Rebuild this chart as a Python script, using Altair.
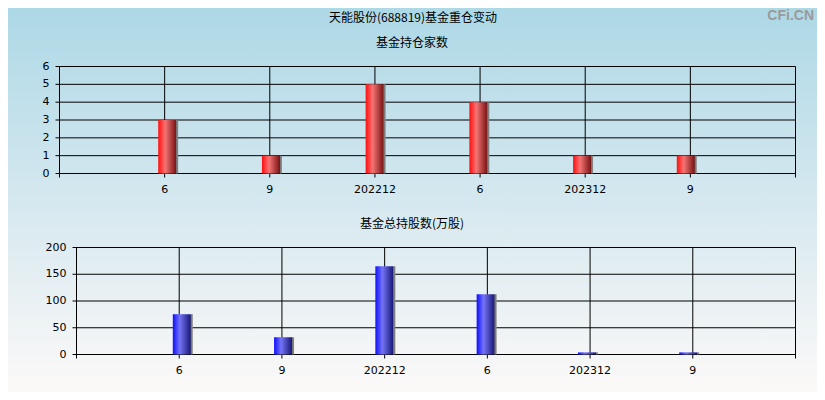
import altair as alt
import pandas as pd

# ---- data ----
positions = [1, 2, 3, 4, 5, 6]
tick_labels = ["6", "9", "202212", "6", "202312", "9"]
fund_counts = [3, 1, 5, 4, 1, 1]
fund_shares = [75.3, 32.3, 165.0, 112.7, 4.0, 4.0]
count_ticks = [0, 1, 2, 3, 4, 5, 6]
share_ticks = [0, 50, 100, 150, 200]
grid_x = [0, 1, 2, 3, 4, 5, 6, 7]

main_title = "天能股份(688819)基金重仓变动"
top_title = "基金持仓家数"
bottom_title = "基金总持股数(万股)"
watermark = "CFi.CN"

W, H = 809, 384
NUM_FONT = "DejaVu Sans"
CJK_FONT = "Noto Sans CJK SC"


def hgrad(stops):
    return {"gradient": "linear", "x1": 0, "y1": 0, "x2": 1, "y2": 0,
            "stops": [{"offset": o, "color": c} for o, c in stops]}


red_grad = hgrad([(0, "#ff1010"), (0.12, "#ff3030"), (0.35, "#f57474"),
                  (0.88, "#7c1616"), (0.9, "#6e6e6e"), (1, "#8c8c8c")])
blue_grad = hgrad([(0, "#1010ff"), (0.12, "#3030ff"), (0.35, "#7474f5"),
                   (0.88, "#1a1a7c"), (0.9, "#6e6e6e"), (1, "#8c8c8c")])
bg_grad = {"gradient": "linear", "x1": 0, "y1": 0, "x2": 0, "y2": 1,
           "stops": [{"offset": 0, "color": "#add8e6"},
                     {"offset": 0.5, "color": "#d5e8ef"},
                     {"offset": 1, "color": "#fcf9f8"}]}


def panel(values, yticks, ymax, xr, yr, grad):
    xs = alt.Scale(domain=[0, 7], range=xr, nice=False, zero=False)
    ys = alt.Scale(domain=[0, ymax], range=yr, nice=False, zero=False)
    bars_df = pd.DataFrame({"pos": positions, "label": tick_labels, "value": values})
    yt_df = pd.DataFrame({"v": yticks, "t": [str(v) for v in yticks]})
    gx_df = pd.DataFrame({"g": grid_x})

    hgrid = alt.Chart(yt_df).mark_rule(color="black", strokeWidth=1, xOffset=-4).encode(
        y=alt.Y("v:Q", scale=ys, axis=None),
        x=alt.XDatum(0, scale=xs, axis=None),
        x2=alt.datum(7),
    )
    vgrid = alt.Chart(gx_df).mark_rule(color="black", strokeWidth=1, y2Offset=4).encode(
        x=alt.X("g:Q", scale=xs, axis=None),
        y=alt.YDatum(ymax, scale=ys, axis=None),
        y2=alt.datum(0),
    )
    bars = alt.Chart(bars_df).mark_bar(width=20, color=grad, stroke=None).encode(
        x=alt.X("pos:Q", scale=xs, axis=None),
        y=alt.Y("value:Q", scale=ys, axis=None),
        y2=alt.datum(0),
    )
    ylabels = alt.Chart(yt_df).mark_text(
        align="right", baseline="middle", dx=-10, font=NUM_FONT, fontSize=11, color="#000"
    ).encode(
        y=alt.Y("v:Q", scale=ys, axis=None),
        x=alt.XDatum(0, scale=xs, axis=None),
        text="t:N",
    )
    xlabels = alt.Chart(bars_df).mark_text(
        align="center", baseline="middle", dy=16, font=NUM_FONT, fontSize=11, color="#000"
    ).encode(
        x=alt.X("pos:Q", scale=xs, axis=None),
        y=alt.YDatum(0, scale=ys, axis=None),
        text="label:N",
    )
    return [hgrid, vgrid, bars, ylabels, xlabels]


one = alt.Data(values=[{"k": 1}])
bg = alt.Chart(one).mark_rect(color=bg_grad).encode(
    x=alt.value(0), x2=alt.value(W), y=alt.value(0), y2=alt.value(H)
)


def label(text, x, y, size=12, font=CJK_FONT, color="black", align="center",
          baseline="middle", weight="normal"):
    return alt.Chart(one).mark_text(
        text=text, font=font, fontSize=size, color=color, align=align,
        baseline=baseline, fontWeight=weight
    ).encode(x=alt.value(x), y=alt.value(y))


top_layers = panel(fund_counts, count_ticks, 6, [51.5, 787.5], [165.5, 58.5], red_grad)
bottom_layers = panel(fund_shares, share_ticks, 200, [68.5, 787.5], [346.5, 239.5], blue_grad)

texts = [
    label(main_title, 405, 10),
    label(top_title, 404, 35),
    label(bottom_title, 404, 216),
    label(watermark, 806, 1, size=14, font="Liberation Sans", color="#9a9a9a",
          align="right", baseline="top", weight="bold"),
]

chart = alt.layer(bg, *top_layers, *bottom_layers, *texts).resolve_scale(
    x="independent", y="independent"
).properties(
    width=W, height=H, padding=0,
    autosize=alt.AutoSizeParams(type="none"),
).configure_view(stroke=None)

chart.save("out.html", embed_options={"renderer": "svg", "actions": False})
